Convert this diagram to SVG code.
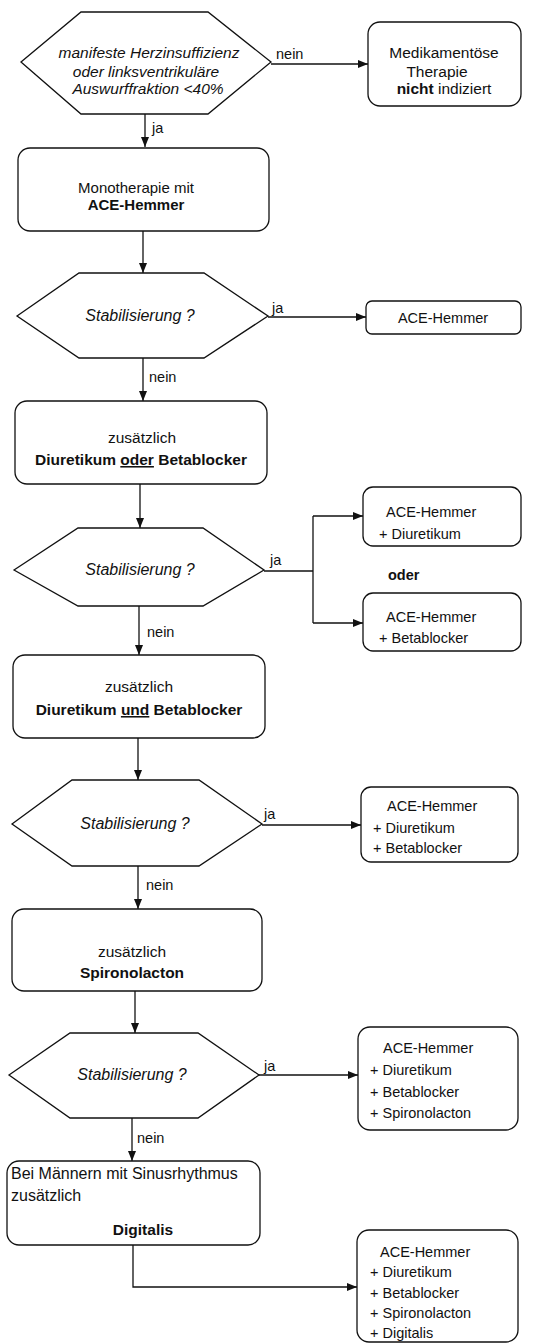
<svg xmlns="http://www.w3.org/2000/svg" width="557" height="1344" viewBox="0 0 557 1344">
<style>
.shape{fill:#fff;stroke:#111;stroke-width:1.3}
.line{fill:none;stroke:#111;stroke-width:1.3}
text{font-family:"Liberation Sans",Arial,sans-serif;font-size:14.5px;fill:#111}
.c{text-anchor:middle}
.i{font-style:italic}
.b{font-weight:bold}
.u{text-decoration:underline}
.hx{font-size:16px;font-style:italic}
.l{font-size:15.5px}
.m{font-size:15px}
.r{font-size:14.5px}
.xl{font-size:16px}
</style>
<defs>
<marker id="arr" markerUnits="userSpaceOnUse" markerWidth="10" markerHeight="8" refX="10" refY="4" orient="auto">
<path d="M0,0 L10,4 L0,8 z" fill="#111"/>
</marker>
</defs>
<rect width="557" height="1344" fill="#fff"/>
<g id="connectors">
<path class="line" d="M271,64 H368" marker-end="url(#arr)"/>
<text x="276" y="59">nein</text>
<path class="line" d="M145,114 V147" marker-end="url(#arr)"/>
<text x="152" y="133">ja</text>
<path class="line" d="M143,231 V273" marker-end="url(#arr)"/>
<path class="line" d="M268,317 H366" marker-end="url(#arr)"/>
<text x="272" y="313">ja</text>
<path class="line" d="M143,358 V401" marker-end="url(#arr)"/>
<text x="149" y="382">nein</text>
<path class="line" d="M140,484 V528" marker-end="url(#arr)"/>
<path class="line" d="M264,571 H313"/>
<path class="line" d="M313,516 V623"/>
<path class="line" d="M313,516 H363" marker-end="url(#arr)"/>
<path class="line" d="M313,623 H363" marker-end="url(#arr)"/>
<text x="270" y="565">ja</text>
<text class="b r" x="388" y="580">oder</text>
<path class="line" d="M139,606 V655" marker-end="url(#arr)"/>
<text x="147" y="637">nein</text>
<path class="line" d="M138,738 V780" marker-end="url(#arr)"/>
<path class="line" d="M262,825 H361" marker-end="url(#arr)"/>
<text x="264" y="819">ja</text>
<path class="line" d="M138,866 V909" marker-end="url(#arr)"/>
<text x="146" y="890">nein</text>
<path class="line" d="M135,991 V1033" marker-end="url(#arr)"/>
<path class="line" d="M259,1075 H358" marker-end="url(#arr)"/>
<text x="264" y="1071">ja</text>
<path class="line" d="M132,1118 V1161" marker-end="url(#arr)"/>
<text x="137" y="1143">nein</text>
<path class="line" d="M133,1245 V1287 H357" marker-end="url(#arr)"/>
</g>
<g id="d1">
<polygon class="shape" points="21,62 81,12 208,12 271,62 208,114 81,114"/>
<text class="c i l" x="149" y="58">manifeste  Herzinsuffizienz</text>
<text class="c i l" x="146" y="77">oder linksventrikuläre</text>
<text class="c i l" x="148" y="94">Auswurffraktion &lt;40%</text>
</g>
<g id="n-keine">
<rect class="shape" x="368" y="22" width="153" height="84" rx="12"/>
<text class="c l" x="444" y="58">Medikamentöse</text>
<text class="c l" x="437" y="77">Therapie</text>
<text class="c l" x="444" y="94"><tspan class="b">nicht</tspan> indiziert</text>
</g>
<g id="n-mono">
<rect class="shape" x="18" y="148" width="251" height="83" rx="12"/>
<text class="c m" x="136" y="193">Monotherapie mit</text>
<text class="c b m" x="136" y="210">ACE-Hemmer</text>
</g>
<g id="d2">
<polygon class="shape" points="17,316 79,273 204,273 268,316 204,358 79,358"/>
<text class="c hx" x="140" y="321">Stabilisierung ?</text>
</g>
<g id="r1">
<rect class="shape" x="366" y="301" width="155" height="33" rx="6"/>
<text class="c r" x="443" y="323">ACE-Hemmer</text>
</g>
<g id="n-zus1">
<rect class="shape" x="15" y="401" width="252" height="83" rx="12"/>
<text class="c l" x="142" y="443">zusätzlich</text>
<text class="c b l" x="141" y="465">Diuretikum <tspan class="u">oder</tspan> Betablocker</text>
</g>
<g id="d3">
<polygon class="shape" points="14,570 78,528 203,528 264,570 203,606 78,606"/>
<text class="c hx" x="140" y="575">Stabilisierung ?</text>
</g>
<g id="r2a">
<rect class="shape" x="363" y="487" width="158" height="59" rx="10"/>
<text class="r" x="386" y="517">ACE-Hemmer</text>
<text class="r" x="379" y="539">+ Diuretikum</text>
</g>
<g id="r2b">
<rect class="shape" x="363" y="593" width="158" height="58" rx="10"/>
<text class="r" x="386" y="622">ACE-Hemmer</text>
<text class="r" x="379" y="643">+ Betablocker</text>
</g>
<g id="n-zus2">
<rect class="shape" x="13" y="655" width="252" height="83" rx="12"/>
<text class="c l" x="139" y="692">zusätzlich</text>
<text class="c b l" x="139" y="715">Diuretikum <tspan class="u">und</tspan> Betablocker</text>
</g>
<g id="d4">
<polygon class="shape" points="12,824 72,780 199,780 262,824 199,866 72,866"/>
<text class="c hx" x="135" y="829">Stabilisierung ?</text>
</g>
<g id="r3">
<rect class="shape" x="361" y="787" width="157" height="75" rx="10"/>
<text class="r" x="387" y="811">ACE-Hemmer</text>
<text class="r" x="373" y="833">+ Diuretikum</text>
<text class="r" x="373" y="853">+ Betablocker</text>
</g>
<g id="n-zus3">
<rect class="shape" x="12" y="909" width="250" height="82" rx="12"/>
<text class="c l" x="132" y="957">zusätzlich</text>
<text class="c b l" x="132" y="978">Spironolacton</text>
</g>
<g id="d5">
<polygon class="shape" points="9,1075 70,1033 198,1033 259,1075 198,1118 70,1118"/>
<text class="c hx" x="132" y="1080">Stabilisierung ?</text>
</g>
<g id="r4">
<rect class="shape" x="358" y="1027" width="160" height="103" rx="12"/>
<text class="r" x="383" y="1053">ACE-Hemmer</text>
<text class="r" x="370" y="1075">+ Diuretikum</text>
<text class="r" x="370" y="1097">+ Betablocker</text>
<text class="r" x="370" y="1118">+ Spironolacton</text>
</g>
<g id="n-dig">
<rect class="shape" x="7" y="1161" width="253" height="84" rx="12"/>
<text class="xl" x="11" y="1179">Bei Männern mit Sinusrhythmus</text>
<text class="xl" x="11" y="1201">zusätzlich</text>
<text class="c b l" x="143" y="1235">Digitalis</text>
</g>
<g id="r5">
<rect class="shape" x="357" y="1230" width="161" height="112" rx="12"/>
<text class="r" x="380" y="1257">ACE-Hemmer</text>
<text class="r" x="370" y="1277">+ Diuretikum</text>
<text class="r" x="370" y="1298">+ Betablocker</text>
<text class="r" x="370" y="1318">+ Spironolacton</text>
<text class="r" x="370" y="1338">+ Digitalis</text>
</g>
</svg>
